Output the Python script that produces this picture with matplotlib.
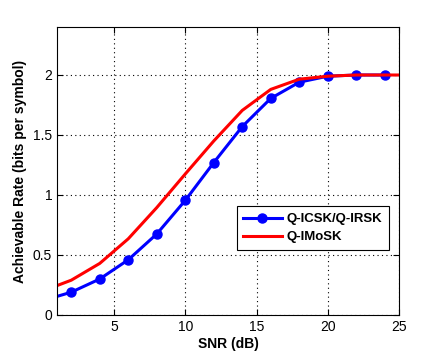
import matplotlib
matplotlib.use("Agg")
import matplotlib.pyplot as plt

snr_blue = [1, 2, 4, 6, 8, 10, 12, 14, 16, 18, 20, 22, 24]
rate_blue = [0.155, 0.19, 0.30, 0.46, 0.675, 0.955, 1.27, 1.57, 1.805, 1.94, 1.99, 2.0, 2.0]
snr_red = [1, 2, 4, 6, 8, 10, 12, 14, 16, 18, 20, 22, 25]
rate_red = [0.245, 0.29, 0.43, 0.635, 0.895, 1.175, 1.45, 1.705, 1.88, 1.965, 1.99, 2.0, 2.0]

plt.rcParams['font.family'] = ['Liberation Sans', 'DejaVu Sans']
fig = plt.figure(figsize=(4.41, 3.54), dpi=100)
ax = fig.add_axes([57/441, 39/354, 342/441, 288/354])

ax.plot(snr_blue, rate_blue, color='#0000ff', lw=2.2, marker='o', ms=6.5,
        markevery=list(range(1, len(snr_blue))), label='Q-ICSK/Q-IRSK')
ax.plot(snr_red, rate_red, color='#ff0000', lw=2.2, label='Q-IMoSK')

ax.set_xlim(1, 25)
ax.set_ylim(0, 2.4)
ax.set_xticks([5, 10, 15, 20, 25])
ax.set_yticks([0, 0.5, 1, 1.5, 2])
ax.set_yticklabels(['0', '0.5', '1', '1.5', '2'])
ax.grid(True, color='black', linestyle=(0, (1, 3)), linewidth=0.8)
ax.tick_params(direction='in', top=True, right=True, labelsize=10, length=4, width=0.8)
for s in ax.spines.values():
    s.set_linewidth(0.8)
ax.set_xlabel('SNR (dB)', fontsize=10, fontweight='bold', labelpad=2)
ax.set_ylabel('Achievable Rate (bits per symbol)', fontsize=10, fontweight='bold', labelpad=4)

leg = ax.legend(loc='lower right', bbox_to_anchor=(389/441, (354-250)/354),
                bbox_transform=fig.transFigure, fancybox=False, framealpha=1,
                edgecolor='black', handlelength=2.9, handletextpad=0.4,
                prop={'weight': 'bold', 'size': 9.5}, borderpad=0.5, labelspacing=0.45,
                borderaxespad=0)
leg.get_frame().set_linewidth(0.8)

fig.savefig('out.png', dpi=100)
